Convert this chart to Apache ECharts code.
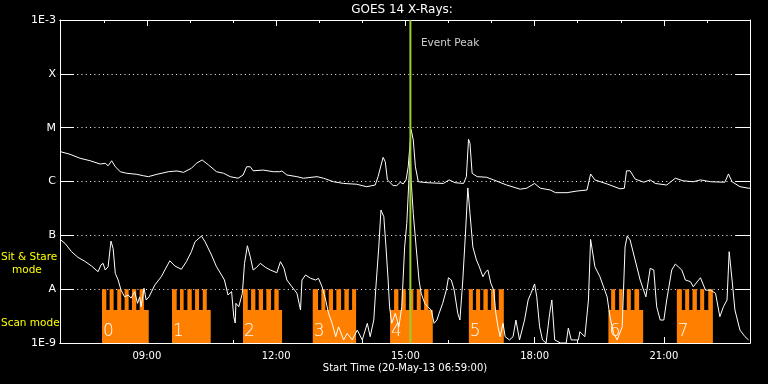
<!DOCTYPE html>
<html>
<head>
<meta charset="utf-8">
<script src="https://cdn.jsdelivr.net/npm/echarts@6/dist/echarts.min.js"></script>
<style>
html,body{margin:0;padding:0;background:#000;}
#c{width:768px;height:384px;}
</style>
</head>
<body>
<div id="c"></div>
<script>
// ---- Data (times in minutes after 00:00 UT, 20-May-2013; flux in W/m^2) ----
const xStart = 419;   // 06:59
const xEnd = 1380;    // 23:00
const fluxMin = 1e-9, fluxMax = 1e-3;
const yTickLabels = ['1E-9', 'A', 'B', 'C', 'M', 'X', '1E-3'];
const hourTicks = [480,540,600,660,720,780,840,900,960,1020,1080,1140,1200,1260,1320];
const labelTicks = [540,720,900,1080,1260];

// GOES long channel (1-8 A)
const longTimes = [420,433,447,461,475,482,486,491,496,503,512,526,535,542,554,570,582,591,602,609,617,626,637,647,656,667,674,679,684,688,702,716,725,728,735,749,758,777,786,800,814,832,846,858,862,869,872,875,883,888,893,897,901,904,908,911,914,918,930,953,961,969,981,985,988,990,993,1000,1013,1023,1041,1060,1069,1080,1088,1102,1104,1109,1125,1139,1153,1158,1164,1181,1199,1205,1208,1213,1220,1232,1241,1248,1264,1276,1287,1301,1311,1325,1345,1350,1355,1366,1378,1380];
const longFlux = [3.57e-6,3.20e-6,2.70e-6,2.43e-6,2.11e-6,2.18e-6,1.96e-6,2.43e-6,1.88e-6,1.52e-6,1.42e-6,1.36e-6,1.28e-6,1.23e-6,1.36e-6,1.52e-6,1.57e-6,1.48e-6,1.76e-6,2.18e-6,2.51e-6,2.02e-6,1.52e-6,1.42e-6,1.23e-6,1.15e-6,1.32e-6,1.88e-6,1.88e-6,1.58e-6,1.63e-6,1.52e-6,1.52e-6,1.57e-6,1.32e-6,1.23e-6,1.15e-6,1.23e-6,1.15e-6,9.9e-7,9.2e-7,8.9e-7,8.0e-7,8.6e-7,1.23e-6,2.81e-6,2.33e-6,1.07e-6,8.4e-7,8.4e-7,9.7e-7,9.0e-7,1.07e-6,1.88e-6,9.3e-6,5.9e-6,1.88e-6,9.9e-7,9.5e-7,9.2e-7,1.07e-6,9.5e-7,9.2e-7,1.23e-6,6.1e-6,5.1e-6,1.42e-6,1.23e-6,1.20e-6,1.07e-6,8.6e-7,7.2e-7,7.5e-7,9.2e-7,7.5e-7,6.95e-7,7.5e-7,6.2e-7,6.2e-7,6.65e-7,6.95e-7,1.38e-6,1.07e-6,9.0e-7,7.3e-7,7.5e-7,1.58e-6,1.58e-6,1.11e-6,9.7e-7,1.07e-6,9.2e-7,8.6e-7,1.15e-6,1.03e-6,9.9e-7,1.07e-6,9.9e-7,9.7e-7,1.38e-6,9.9e-7,8.0e-7,7.5e-7,7.5e-7];

// GOES short channel (0.5-4 A)
const shortTimes = [420,426,435,444,453,463,472,476,479,482,486,490,493,496,500,504,509,514,518,523,527,530,532,536,539,543,551,560,565,572,579,588,595,602,607,616,621,630,637,644,648,653,658,661,663,664,668,673,676,680,684,688,693,698,705,712,721,726,731,735,742,749,754,756,761,768,775,779,784,789,793,798,803,807,814,819,826,833,840,847,851,856,859,863,866,870,873,876,878,881,886,891,895,899,902,907,908,911,915,919,922,927,931,936,940,944,947,952,957,960,964,968,973,976,980,984,987,990,994,999,1003,1008,1012,1015,1019,1023,1026,1029,1032,1036,1039,1045,1050,1054,1059,1066,1071,1075,1080,1083,1087,1091,1096,1101,1104,1108,1116,1124,1127,1131,1141,1143,1150,1155,1158,1164,1171,1181,1185,1190,1195,1202,1206,1209,1213,1220,1227,1235,1241,1246,1250,1255,1260,1264,1271,1276,1285,1290,1297,1301,1311,1318,1325,1332,1338,1343,1348,1351,1355,1359,1366,1373,1378];
const shortFlux = [8.2e-8,7.1e-8,4.97e-8,3.9e-8,3.33e-8,2.69e-8,2.11e-8,2.81e-8,3.02e-8,2.27e-8,
2.61e-8,7.8e-8,5.7e-8,1.97e-8,1.48e-8,9.6e-9,7.2e-9,7.8e-9,6.8e-9,9.0e-9,
5.46e-9,7.2e-9,4.72e-9,1.04e-8,6.3e-9,7.2e-9,1.19e-8,1.70e-8,2.27e-8,3.37e-8,
2.69e-8,2.34e-8,3.24e-8,4.97e-8,7.6e-8,9.7e-8,7.6e-8,4.31e-8,2.61e-8,1.83e-8,
1.48e-8,7.8e-9,9.0e-9,3.08e-9,2.35e-9,5.46e-9,4.72e-9,8.4e-9,3.02e-8,6.4e-8,
4.0e-8,2.27e-8,2.55e-8,3.02e-8,2.55e-8,2.27e-8,2.02e-8,3.24e-8,2.44e-8,1.48e-8,
1.11e-8,8.4e-9,4.10e-9,1.48e-8,1.83e-8,1.59e-8,1.48e-8,1.59e-8,1.11e-8,6.3e-9,
3.56e-9,2.32e-9,1.31e-9,2.0e-9,1.14e-9,1.51e-9,1.14e-9,1.74e-9,1.14e-9,2.32e-9,
1.31e-9,2.67e-9,1.11e-8,6.1e-8,2.95e-7,2.22e-7,6.1e-8,1.48e-8,4.72e-9,2.32e-9,
3.56e-9,2.0e-9,4.72e-9,6.1e-8,1.67e-7,3.85e-6,1.07e-6,2.56e-7,6.1e-8,1.48e-8,
8.4e-9,5.46e-9,4.72e-9,4.10e-9,2.32e-9,2.67e-9,3.56e-9,5.46e-9,9.6e-9,1.63e-8,
1.48e-8,9.6e-9,3.56e-9,2.67e-9,1.48e-8,1.26e-7,7.6e-7,2.56e-7,6.1e-8,3.48e-8,
2.61e-8,1.70e-8,2.11e-8,2.27e-8,1.29e-8,9.6e-9,3.56e-9,2.0e-9,1.31e-9,2.32e-9,
1.31e-9,1.14e-9,1.31e-9,2.67e-9,1.14e-9,2.67e-9,6.3e-9,8.4e-9,1.25e-8,7.2e-9,
2.0e-9,1.14e-9,1.0e-9,3.56e-9,6.3e-9,1.14e-9,1.0e-9,1.0e-9,1.90e-9,1.14e-9,
1.14e-9,1.62e-9,1.31e-9,6.3e-9,8.4e-8,2.61e-8,1.70e-8,7.2e-9,3.08e-9,1.51e-9,
1.14e-9,2.0e-9,6.1e-8,9.7e-8,8.2e-8,3.48e-8,1.48e-8,7.2e-9,2.44e-8,2.27e-8,
4.72e-9,2.67e-9,2.67e-9,6.3e-9,2.27e-8,2.93e-8,2.27e-8,1.48e-8,1.38e-8,1.11e-8,
1.63e-8,9.6e-9,9.6e-9,8.4e-9,3.08e-9,4.72e-9,6.3e-9,4.97e-8,1.48e-8,4.1e-9,
1.74e-9,1.31e-9,1.14e-9];

// Observation blocks (scan mode) and sit & stare intervals
const blockStarts = [477.5, 575.0, 673.9, 771.0, 878.7, 988.4, 1182.8, 1278.1];
const blockEnds   = [542.6, 628.9, 728.3, 831.4, 938.2, 1037.1, 1231.2, 1328.3];
const blockLabels = ['0','1','2','3','4','5','6','7'];
const sitStareIntervals = [
  [477.5,483.5],[488.1,493.7],[498.7,504.3],[509.0,514.6],[519.2,525.2],[529.9,535.9],
  [575.0,581.5],[586.1,591.2],[596.4,602.5],[607.1,612.7],[617.8,623.4],
  [673.9,680.5],[685.1,691.1],[695.8,701.8],[706.4,712.9],[717.5,723.6],
  [771.0,778.4],[783.0,788.6],[793.3,799.3],[803.9,810.5],[815.1,821.2],[825.8,831.4],
  [884.3,890.3],[895.0,900.6],[905.6,911.1],[915.9,921.5],[926.1,932.1],
  [988.4,994.0],[998.5,1004.1],[1008.7,1014.8],[1019.4,1025.0],[1030.1,1037.1],
  [1186.6,1192.2],[1197.7,1202.8],[1208.4,1214.0],[1219.0,1225.6],
  [1278.1,1285.1],[1289.7,1295.3],[1299.9,1306.0],[1310.6,1316.2],[1321.9,1328.3]
];
const scanLevel = 4.1e-9;       // top of scan-mode band
const sitStareLevel = 1e-8;     // top of sit & stare teeth
const eventPeakTime = 907;      // 15:07
const eventLabelFlux = 3.7e-4;

// ---- Chart ----
const ORANGE = '#ff8000';
const WHITE = '#ffffff';
const FONT = '"DejaVu Sans", sans-serif';
const pad = n => (n < 10 ? '0' : '') + n;
const fmtTime = v => pad(Math.floor(v / 60)) + ':' + pad(Math.round(v % 60));
const zip = (a, b) => a.map((t, i) => [t, b[i]]);

const chart = echarts.init(document.getElementById('c'), null, {renderer: 'canvas'});

const xBase = {
  type: 'value', min: xStart, max: xEnd, gridIndex: 0,
  splitLine: {show: false},
  axisLine: {show: true, onZero: false, lineStyle: {color: WHITE, width: 1}},
  axisLabel: {show: false}
};
const yBase = {
  type: 'log', logBase: 10, min: fluxMin, max: fluxMax, splitNumber: 6,
  axisLine: {show: true, onZero: false, lineStyle: {color: WHITE, width: 1}},
  axisTick: {show: true, inside: true, length: 14, lineStyle: {color: WHITE, width: 1}}
};

chart.setOption({
  backgroundColor: '#000000',
  animation: false,
  grid: {left: 60, right: 18, top: 20, bottom: 41, containLabel: false},
  xAxis: [
    Object.assign({}, xBase, {
      position: 'bottom',
      axisTick: {show: true, inside: true, length: 3, customValues: hourTicks, lineStyle: {color: WHITE}},
      axisLabel: {show: true, customValues: labelTicks, formatter: fmtTime, color: WHITE,
                  fontFamily: FONT, fontSize: 10, margin: 8}
    }),
    Object.assign({}, xBase, {
      position: 'bottom',
      axisTick: {show: true, inside: true, length: 6, customValues: labelTicks, lineStyle: {color: WHITE}}
    }),
    Object.assign({}, xBase, {
      position: 'top',
      axisTick: {show: true, inside: true, length: 3, customValues: hourTicks, lineStyle: {color: WHITE}}
    }),
    Object.assign({}, xBase, {
      position: 'top',
      axisTick: {show: true, inside: true, length: 6, customValues: labelTicks, lineStyle: {color: WHITE}}
    })
  ],
  yAxis: [
    Object.assign({}, yBase, {
      position: 'left',
      axisLabel: {
        show: true, color: WHITE, fontFamily: FONT, fontSize: 11, margin: 4,
        formatter: v => yTickLabels[Math.round(Math.log10(v)) + 9] || ''
      },
      splitLine: {show: true, lineStyle: {color: WHITE, width: 1, type: [1, 3.3]}}
    }),
    Object.assign({}, yBase, {
      position: 'right',
      axisLabel: {show: false},
      splitLine: {show: false}
    })
  ],
  graphic: [
    {type: 'text', x: 402, y: 4, style: {text: 'GOES 14 X-Rays:', fill: WHITE, font: '12px ' + FONT, align: 'center', verticalAlign: 'top'}},
    {type: 'text', x: 405, y: 363, style: {text: 'Start Time (20-May-13 06:59:00)', fill: WHITE, font: '10px ' + FONT, align: 'center', verticalAlign: 'top'}},
    {type: 'text', x: 1, y: 252, style: {text: 'Sit & Stare', fill: '#ffff00', font: '10.5px ' + FONT, align: 'left', verticalAlign: 'top'}},
    {type: 'text', x: 12, y: 265, style: {text: 'mode', fill: '#ffff00', font: '10.5px ' + FONT, align: 'left', verticalAlign: 'top'}},
    {type: 'text', x: 1, y: 318, style: {text: 'Scan mode', fill: '#ffff00', font: '10.5px ' + FONT, align: 'left', verticalAlign: 'top'}}
  ],
  series: [
    {
      type: 'custom', name: 'scan', z: 1,
      encode: {x: [0, 1]},
      data: blockStarts.map((s, i) => [s, blockEnds[i], blockLabels[i]]),
      renderItem: (params, api) => {
        const p0 = api.coord([api.value(0), scanLevel]);
        const p1 = api.coord([api.value(1), fluxMin]);
        return {
          type: 'group',
          children: [
            {type: 'rect', shape: {x: p0[0], y: p0[1], width: p1[0] - p0[0], height: p1[1] - p0[1]},
             style: {fill: ORANGE}},
            {type: 'text', z2: 10, x: p0[0] + 1, y: p1[1] - 3,
             style: {text: String(api.value(2)), fill: WHITE, font: '200 17px ' + FONT,
                     align: 'left', verticalAlign: 'bottom'}}
          ]
        };
      }
    },
    {
      type: 'custom', name: 'sitstare', z: 1,
      encode: {x: [0, 1]},
      data: sitStareIntervals,
      renderItem: (params, api) => {
        const p0 = api.coord([api.value(0), sitStareLevel]);
        const p1 = api.coord([api.value(1), scanLevel]);
        return {type: 'rect', shape: {x: p0[0], y: p0[1], width: p1[0] - p0[0], height: p1[1] - p0[1] + 0.5},
                style: {fill: ORANGE}};
      }
    },
    {
      type: 'line', name: 'long', z: 3, showSymbol: false, symbol: 'none',
      lineStyle: {color: WHITE, width: 1}, data: zip(longTimes, longFlux)
    },
    {
      type: 'line', name: 'short', z: 3, showSymbol: false, symbol: 'none',
      lineStyle: {color: WHITE, width: 1}, data: zip(shortTimes, shortFlux)
    },
    {
      type: 'line', name: 'peak', z: 5, showSymbol: false, symbol: 'none',
      lineStyle: {color: '#9acd32', width: 2},
      data: [[eventPeakTime, fluxMin], [eventPeakTime, fluxMax]]
    },
    {
      type: 'scatter', name: 'peakLabel', z: 5, symbolSize: 1,
      itemStyle: {color: 'rgba(0,0,0,0)'},
      label: {show: true, position: 'right', distance: 10, formatter: 'Event Peak',
              color: WHITE, fontFamily: FONT, fontSize: 10.5},
      data: [[eventPeakTime, eventLabelFlux]]
    }
  ]
});
</script>
</body>
</html>
